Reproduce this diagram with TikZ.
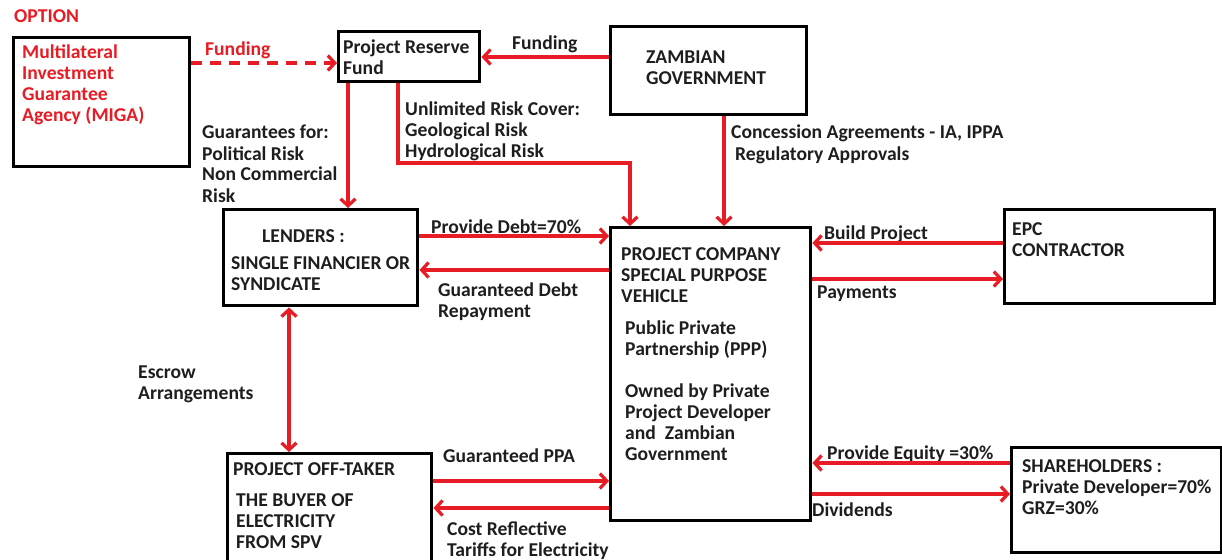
\documentclass[tikz,border=0pt]{standalone}
\usepackage{fontspec}
\setmainfont{Carlito}
\usetikzlibrary{arrows.meta}
\definecolor{lred}{RGB}{232,28,36}
\definecolor{txt}{RGB}{30,30,30}
\newcommand\ml[1]{\begin{tabular}[t]{@{}l@{}}#1\end{tabular}}
\begin{document}
\begin{tikzpicture}[x=1pt,y=-1pt,
  box/.style={draw=black,line width=3.4pt,rectangle,inner sep=0pt,anchor=north west},
  lbl/.style={anchor=base west,inner sep=0pt,text=txt,font=\fontsize{19.6}{21}\selectfont\bfseries},
  rlbl/.style={lbl,text=lred},
  flow/.style={draw=lred,line width=3.2pt,-{Straight Barb[length=7pt,width=15pt]}},
]
\clip (0,0) rectangle (1222,559);
\fill[white] (0,0) rectangle (1222,559);
% boxes
\node[box,minimum width=176pt,minimum height=129pt] (miga) at (12,36) {};
\node[box,minimum width=141pt,minimum height=50pt] (prf) at (337,30) {};
\node[box,minimum width=196pt,minimum height=88pt] (zg) at (609,25) {};
\node[box,minimum width=194pt,minimum height=96pt] (len) at (222,208) {};
\node[box,minimum width=200pt,minimum height=293pt] (pc) at (609,226) {};
\node[box,minimum width=210pt,minimum height=94pt] (epc) at (1003,208) {};
\node[box,minimum width=204pt,minimum height=115pt] (off) at (226,452) {};
\node[box,minimum width=210pt,minimum height=105pt] (sh) at (1010,446) {};
% box texts
\node[rlbl] (topt) at (14,23) {OPTION};
\node[rlbl] (tmiga) at (22,59) {\ml{Multilateral\\Investment\\Guarantee\\Agency (MIGA)}};
\node[lbl] (tprf) at (343,54) {\ml{Project Reserve\\Fund}};
\node[lbl] (tzg) at (646,64) {\ml{ZAMBIAN\\GOVERNMENT}};
\node[lbl] (tlen1) at (262,242) {LENDERS :};
\node[lbl] (tlen2) at (231,269) {\ml{SINGLE FINANCIER OR\\SYNDICATE}};
\node[lbl] (tpc1) at (621,260) {\ml{PROJECT COMPANY\\SPECIAL PURPOSE\\VEHICLE}};
\node[lbl] (tpc2) at (625,334) {\ml{Public Private\\Partnership (PPP)}};
\node[lbl] (tpc3) at (625,397) {\ml{Owned by Private\\Project Developer\\and\ \ Zambian\\Government}};
\node[lbl] (tepc) at (1012,235) {\ml{EPC\\CONTRACTOR}};
\node[lbl] (toff1) at (233,475) {PROJECT OFF-TAKER};
\node[lbl] (toff2) at (236,506) {\ml{THE BUYER OF\\ELECTRICITY\\FROM SPV}};
\node[lbl] (tsh) at (1022,472) {\ml{SHAREHOLDERS :\\Private Developer=70\%\\GRZ=30\%}};
% connector labels
\node[rlbl] (lf1) at (205,56) {Funding};
\node[lbl] (lf2) at (512,50) {Funding};
\node[lbl] (lg) at (202,139) {\ml{Guarantees for:\\Political Risk\\Non Commercial\\Risk}};
\node[lbl] (lu) at (405,115) {\ml{Unlimited Risk Cover:\\Geological Risk\\Hydrological Risk}};
\node[lbl] (lc) at (731,139) {\ml{Concession Agreements - IA, IPPA\\\hspace*{4pt}Regulatory Approvals}};
\node[lbl] (ld) at (431,233) {Provide Debt=70\%};
\node[lbl] (lr) at (438,296) {\ml{Guaranteed Debt\\Repayment}};
\node[lbl] (lb) at (824,239) {Build Project};
\node[lbl] (lp) at (817,298) {Payments};
\node[lbl] (le) at (138,378) {\ml{Escrow\\Arrangements}};
\node[lbl] (lppa) at (443,462) {Guaranteed PPA};
\node[lbl] (lt) at (447,535) {\ml{Cost Reflective\\Tariffs for Electricity}};
\node[lbl] (leq) at (827,459) {Provide Equity =30\%};
\node[lbl] (ldiv) at (812,516) {Dividends};
% connectors
\draw[flow,dash pattern=on 11pt off 8pt] (miga.east |- 0,63) -- (prf.west |- 0,63);
\draw[flow] (zg.west |- 0,57) -- (prf.east |- 0,57);
\draw[flow] (prf.south -| 348,0) -- (len.north -| 348,0);
\draw[flow] (prf.south -| 398,0) -- (398,163) -- (630,163) -- (pc.north -| 630,0);
\draw[flow] (zg.south -| 724,0) -- (pc.north -| 724,0);
\draw[flow] (len.east |- 0,236) -- (pc.west |- 0,236);
\draw[flow] (pc.west |- 0,270) -- (len.east |- 0,270);
\draw[flow] (epc.west |- 0,243) -- (pc.east |- 0,243);
\draw[flow] (pc.east |- 0,279) -- (epc.west |- 0,279);
\draw[flow,{Straight Barb[length=7pt,width=15pt]}-{Straight Barb[length=7pt,width=15pt]}] (len.south -| 289,0) -- (off.north -| 289,0);
\draw[flow] (off.east |- 0,481) -- (pc.west |- 0,481);
\draw[flow] (pc.west |- 0,508) -- (off.east |- 0,508);
\draw[flow] (sh.west |- 0,463) -- (pc.east |- 0,463);
\draw[flow] (pc.east |- 0,494) -- (sh.west |- 0,494);
\end{tikzpicture}
\end{document}
